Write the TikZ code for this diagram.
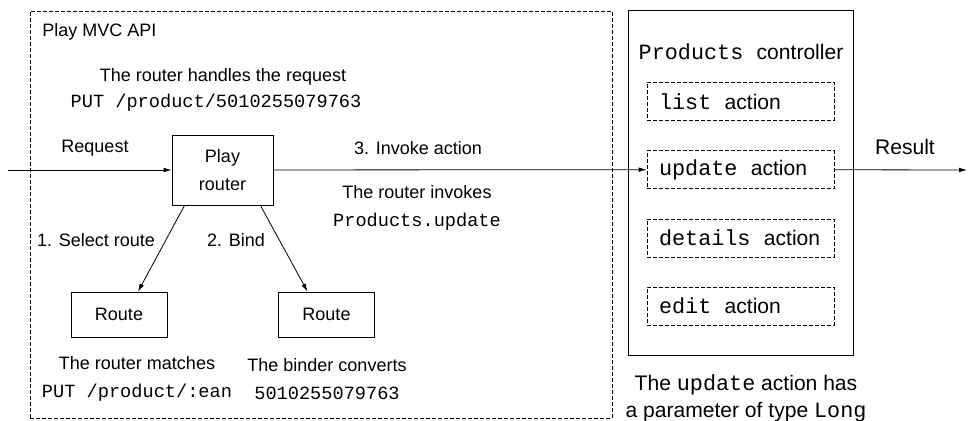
\documentclass[tikz,border=0pt]{standalone}
\usepackage{fontspec}
\setmainfont{Liberation Sans}
\setmonofont[Scale=1.035]{Liberation Mono}
\usetikzlibrary{matrix,arrows.meta}
\newcommand\lsz{\fontsize{13.5}{21}\selectfont}
\newcommand\rsz{\fontsize{15.8}{20.25}\selectfont}
\newcommand\gap{\hspace{10pt}}

\begin{document}
\begin{tikzpicture}[x=0.75pt, y=-0.75pt, line width=0.6pt,
    nodes={inner sep=0, font=\lsz},
    box/.style={draw, minimum width=72pt, minimum height=33.75pt},
    dashbox/.style={draw, dash pattern=on 3pt off 1.5pt},
    arr/.style={-{Latex[length=6pt,width=3.5pt]}}]
  \useasboundingbox (0,0) rectangle (968,421);
  % framework and controller
  \node[dashbox, minimum width=436.5pt, minimum height=305.25pt] (api) at (321,214.5) {};
  \node[anchor=west] (apiname) at (42,32) {Play MVC API};
  \node[draw, minimum width=168.75pt, minimum height=258.75pt] (ctrl) at (740.5,182.5) {};
  \node[font=\rsz] (ctrlname) at (741,52) {\texttt{Products}\gap controller};
  \matrix (actions) [matrix of nodes, row sep=22.125pt,
      nodes={dashbox, font=\rsz, text width=122.25pt, inner xsep=9pt,
        minimum height=28.5pt, align=left}] at (740.5,203.75) {
    \texttt{list}\gap action \\
    \texttt{update}\gap action \\
    \texttt{details}\gap action \\
    \texttt{edit}\gap action \\
  };
  % router and routes
  \node[draw, align=center, minimum width=75.75pt, minimum height=52.5pt] (router) at (222.5,170) {Play\\router};
  \node[box] (route1) at (119,314.5) {Route};
  \node[box] (route2) at (326.5,314.5) {Route};
  \coordinate (src) at (8,170);
  \coordinate (dst) at (967,170);
  \draw[arr] (src) -- (router);
  \draw[arr] (router) -- (actions-2-1);
  \draw[arr] (actions-2-1) -- (dst);
  \draw[arr] ([xshift=9.75pt]router.south west) -- ([xshift=14.25pt]route1.north);
  \draw[arr] ([xshift=-9.75pt]router.south east) -- ([xshift=-14.25pt]route2.north);
  % labels
  \node (handles) at (223,77) {The router handles the request};
  \node (puturl) at (216,103) {\texttt{PUT /product/5010255079763}};
  \node (request) at (95,148) {Request};
  \node (invoke) at (418,148) {3. Invoke action};
  \node[align=center] (invokes) at (417,208) {The router invokes\\\texttt{Products.update}};
  \node (select) at (96,240) {1. Select route};
  \node (bind) at (236,240) {2. Bind};
  \node[align=center] (matches) at (137,379) {The router matches\\\texttt{PUT /product/:ean}};
  \node[align=center] (converts) at (327,379) {The binder converts\\\texttt{5010255079763}};
  \node[font=\rsz] (result) at (905,147) {Result};
  \node[font=\rsz, align=center] (param) at (746,398.5) {The \texttt{update} action has\\a parameter of type \texttt{Long}};
\end{tikzpicture}
\end{document}
